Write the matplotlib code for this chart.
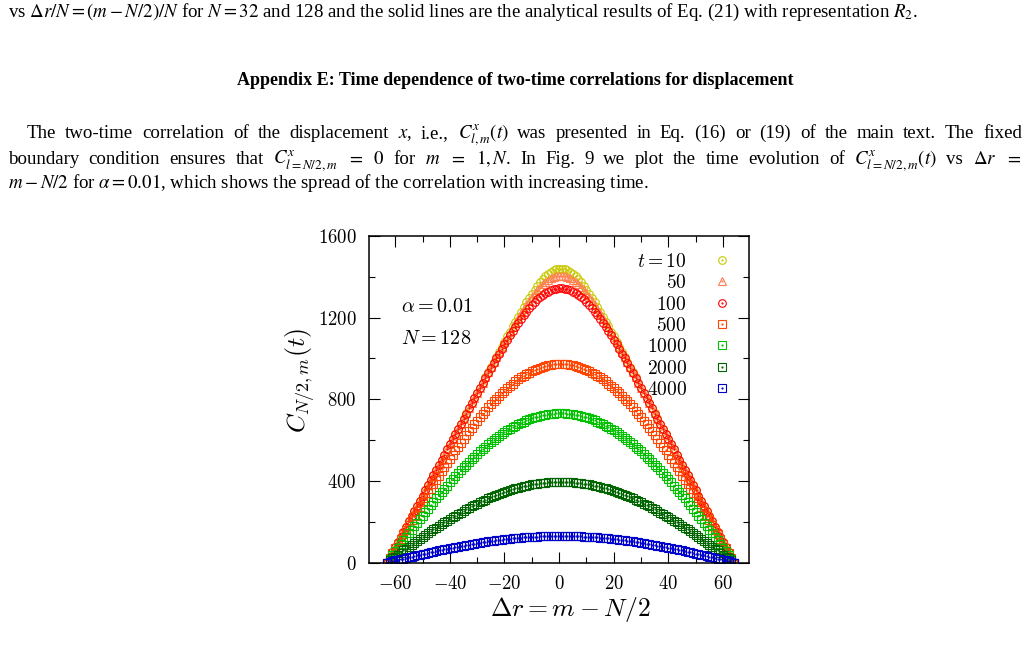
import numpy as np
import matplotlib
matplotlib.use('Agg')
import matplotlib.pyplot as plt
from matplotlib.legend_handler import HandlerTuple
from matplotlib.ticker import MultipleLocator

plt.rcParams['font.family'] = ['Liberation Serif', 'DejaVu Serif']
plt.rcParams['mathtext.fontset'] = 'cm'

W, H = 1029, 648

# ---- data ----
delta_r = list(range(-63, 65))   # m - N/2, m = 1..128
times = ['10', '50', '100', '500', '1000', '2000', '4000']

c_t10 = [0, 25, 50, 76, 101, 126, 151, 176, 202, 227, 252, 277, 302, 328, 353, 378, 403, 428, 454, 479, 504, 529, 554, 580, 605, 630, 655, 680, 706, 731, 756, 781, 806, 831, 857, 882, 907, 932, 957, 983, 1008, 1033, 1058, 1083, 1108, 1132, 1157, 1181, 1205, 1229, 1252, 1275, 1297, 1318, 1337, 1356, 1373, 1389, 1403, 1414, 1424, 1432, 1436, 1439,
         1439, 1436, 1432, 1424, 1414, 1403, 1389, 1373, 1356, 1337, 1318, 1297, 1275, 1252, 1229, 1205, 1181, 1157, 1132, 1108, 1083, 1058, 1033, 1008, 983, 957, 932, 907, 882, 857, 831, 806, 781, 756, 731, 706, 680, 655, 630, 605, 580, 554, 529, 504, 479, 454, 428, 403, 378, 353, 328, 302, 277, 252, 227, 202, 176, 151, 126, 101, 76, 50, 25, 0]
c_t50 = [0, 25, 50, 76, 101, 126, 151, 176, 202, 227, 252, 277, 302, 328, 353, 378, 403, 428, 454, 479, 504, 529, 554, 580, 605, 630, 655, 680, 705, 731, 756, 781, 806, 831, 857, 882, 907, 932, 957, 982, 1007, 1031, 1056, 1081, 1105, 1129, 1152, 1176, 1198, 1221, 1242, 1263, 1283, 1301, 1319, 1335, 1350, 1364, 1376, 1386, 1394, 1400, 1404, 1406,
         1406, 1404, 1400, 1394, 1386, 1376, 1364, 1350, 1335, 1319, 1301, 1283, 1263, 1242, 1221, 1198, 1176, 1152, 1129, 1105, 1081, 1056, 1031, 1007, 982, 957, 932, 907, 882, 857, 831, 806, 781, 756, 731, 705, 680, 655, 630, 605, 580, 554, 529, 504, 479, 454, 428, 403, 378, 353, 328, 302, 277, 252, 227, 202, 176, 151, 126, 101, 76, 50, 25, 0]
c_t100 = [0, 25, 50, 76, 101, 126, 151, 176, 202, 227, 252, 277, 302, 328, 353, 378, 403, 428, 454, 479, 504, 529, 554, 579, 605, 630, 655, 680, 705, 730, 755, 780, 805, 830, 854, 879, 904, 928, 952, 976, 1000, 1023, 1046, 1069, 1091, 1113, 1134, 1155, 1175, 1194, 1212, 1230, 1246, 1262, 1276, 1289, 1301, 1312, 1321, 1328, 1335, 1339, 1342, 1344,
          1344, 1342, 1339, 1335, 1328, 1321, 1312, 1301, 1289, 1276, 1262, 1246, 1230, 1212, 1194, 1175, 1155, 1134, 1113, 1091, 1069, 1046, 1023, 1000, 976, 952, 928, 904, 879, 854, 830, 805, 780, 755, 730, 705, 680, 655, 630, 605, 579, 554, 529, 504, 479, 454, 428, 403, 378, 353, 328, 302, 277, 252, 227, 202, 176, 151, 126, 101, 76, 50, 25, 0]
c_t500 = [0, 23, 46, 69, 92, 115, 138, 161, 184, 207, 229, 252, 274, 296, 318, 340, 362, 384, 405, 426, 447, 468, 489, 509, 529, 549, 568, 588, 606, 625, 643, 661, 678, 695, 712, 728, 744, 760, 775, 789, 803, 817, 830, 842, 854, 866, 877, 887, 897, 907, 915, 923, 931, 938, 944, 950, 955, 960, 963, 967, 969, 971, 972, 973,
          973, 972, 971, 969, 967, 963, 960, 955, 950, 944, 938, 931, 923, 915, 907, 897, 887, 877, 866, 854, 842, 830, 817, 803, 789, 775, 760, 744, 728, 712, 695, 678, 661, 643, 625, 606, 588, 568, 549, 529, 509, 489, 468, 447, 426, 405, 384, 362, 340, 318, 296, 274, 252, 229, 207, 184, 161, 138, 115, 92, 69, 46, 23, 0]
c_t1000 = [0, 18, 36, 54, 72, 90, 108, 125, 143, 161, 178, 196, 213, 230, 247, 264, 281, 297, 314, 330, 346, 362, 377, 393, 408, 423, 437, 452, 466, 479, 493, 506, 519, 532, 544, 556, 567, 579, 589, 600, 610, 620, 629, 638, 647, 655, 663, 671, 678, 684, 690, 696, 701, 706, 711, 715, 718, 722, 724, 726, 728, 730, 731, 731,
           731, 731, 730, 728, 726, 724, 722, 718, 715, 711, 706, 701, 696, 690, 684, 678, 671, 663, 655, 647, 638, 629, 620, 610, 600, 589, 579, 567, 556, 544, 532, 519, 506, 493, 479, 466, 452, 437, 423, 408, 393, 377, 362, 346, 330, 314, 297, 281, 264, 247, 230, 213, 196, 178, 161, 143, 125, 108, 90, 72, 54, 36, 18, 0]
c_t2000 = [0, 10, 20, 29, 39, 49, 59, 68, 78, 87, 97, 106, 116, 125, 134, 144, 153, 162, 171, 179, 188, 197, 205, 213, 222, 230, 238, 245, 253, 260, 268, 275, 282, 289, 295, 302, 308, 314, 320, 325, 331, 336, 341, 346, 351, 355, 359, 363, 367, 371, 374, 377, 380, 383, 385, 387, 389, 391, 392, 394, 395, 395, 396, 396,
           396, 396, 395, 395, 394, 392, 391, 389, 387, 385, 383, 380, 377, 374, 371, 367, 363, 359, 355, 351, 346, 341, 336, 331, 325, 320, 314, 308, 302, 295, 289, 282, 275, 268, 260, 253, 245, 238, 230, 222, 213, 205, 197, 188, 179, 171, 162, 153, 144, 134, 125, 116, 106, 97, 87, 78, 68, 59, 49, 39, 29, 20, 10, 0]
c_t4000 = [0, 3, 6, 10, 13, 16, 19, 22, 26, 29, 32, 35, 38, 41, 44, 47, 50, 53, 56, 59, 62, 65, 67, 70, 73, 75, 78, 81, 83, 85, 88, 90, 92, 95, 97, 99, 101, 103, 105, 107, 109, 110, 112, 114, 115, 117, 118, 119, 121, 122, 123, 124, 125, 126, 126, 127, 128, 128, 129, 129, 130, 130, 130, 130,
           130, 130, 130, 130, 129, 129, 128, 128, 127, 126, 126, 125, 124, 123, 122, 121, 119, 118, 117, 115, 114, 112, 110, 109, 107, 105, 103, 101, 99, 97, 95, 92, 90, 88, 85, 83, 81, 78, 75, 73, 70, 67, 65, 62, 59, 56, 53, 50, 47, 44, 41, 38, 35, 32, 29, 26, 22, 19, 16, 13, 10, 6, 3, 0]

series = [c_t10, c_t50, c_t100, c_t500, c_t1000, c_t2000, c_t4000]
xticks = [-60, -40, -20, 0, 20, 40, 60]
yticks = [0, 400, 800, 1200, 1600]

# ---- figure ----
fig = plt.figure(figsize=(W / 100, H / 100), dpi=100)
fig.patch.set_facecolor('white')

ax = fig.add_axes([369 / W, 1 - 562.5 / H, 380 / W, 326.5 / H])
styles = [('o', '#c8c800'), ('^', '#ff7f50'), ('o', '#ff0000'), ('s', '#ff4500'),
          ('s', '#00c000'), ('s', '#006400'), ('s', '#0000cc')]
handles = []
for v, (mk, c) in zip(series, styles):
    ms = 5.5 if mk != '^' else 6.0
    h1, = ax.plot(delta_r, v, ls='none', marker=mk, ms=ms, mfc='none', mec=c, mew=0.8)
    h2, = ax.plot(delta_r, v, ls='none', marker='.', ms=1.2, color=c)
    handles.append((h1, h2))

ax.set_xlim(-69.6, 69.5)
ax.set_ylim(0, 1600)
ax.set_xticks(xticks)
ax.set_xticklabels([f'${v}$' for v in xticks])
ax.set_yticks(yticks)
ax.set_yticklabels([f'${v}$' for v in yticks])
ax.xaxis.set_minor_locator(MultipleLocator(10))
ax.yaxis.set_minor_locator(MultipleLocator(200))
ax.tick_params(which='both', direction='in', top=True, right=True, width=0.8, labelsize=13.5, pad=9)
ax.tick_params(which='major', length=8)
ax.tick_params(which='minor', length=4.5)
for s in ax.spines.values():
    s.set_linewidth(1.1)
ax.set_ylabel(r'$C_{N/2,m}(t)$', fontsize=18.5)
ax.yaxis.set_label_coords(-0.134, 0.559)
ax.set_xlabel(r'$\Delta r = m - N/2$', fontsize=18.5)
ax.xaxis.set_label_coords(0.529, -0.1)
ax.text(0.178, 0.7795, r'$\alpha = 0.01$', transform=ax.transAxes, ha='center', va='center', fontsize=14.5)
ax.text(0.178, 0.6845, r'$N = 128$', transform=ax.transAxes, ha='center', va='center', fontsize=14.5)

labels = ['$t = 10$'] + [f'${t}$' for t in times[1:]]
leg = ax.legend(handles, labels, handler_map={tuple: HandlerTuple(ndivide=1, pad=0)},
                loc='upper right', bbox_to_anchor=(0.9537, 0.948), frameon=False,
                markerfirst=False, fontsize=14, handlelength=1.0, handletextpad=1.3,
                labelspacing=0.17, borderpad=0, borderaxespad=0)

# ---- page text ----
fs = 13.6
fig.text(8 / W, 1 - 17 / H, r'vs $\Delta r/N = (m - N/2)/N$ for $N = 32$ and 128 and the solid lines are the analytical results of Eq. (21) with representation $R_2$.',
         fontsize=fs, va='baseline', ha='left', math_fontfamily='stix')
fig.text(515 / W, 1 - 85 / H, 'Appendix E: Time dependence of two-time correlations for displacement',
         fontsize=13, fontweight='bold', va='baseline', ha='center')

fig.canvas.draw()
r = fig.canvas.get_renderer()

def justify(tokens, x0, x1, yb):
    ts = [fig.text(0, 1 - yb / H, tok, fontsize=fs, va='baseline', ha='left', math_fontfamily='stix') for tok in tokens]
    ws = [t.get_window_extent(r).width for t in ts]
    gap = ((x1 - x0) - sum(ws)) / (len(ts) - 1)
    xx = x0
    for t, w in zip(ts, ws):
        t.set_x(xx / W)
        xx += w + gap

l1 = ('The two-time correlation of the displacement $x$, i.e., $C^x_{l,m}(t)$ was presented in '
      'Eq. (16) or (19) of the main text. The fixed').split(' ')
l2 = ['boundary', 'condition', 'ensures', 'that', r'$C^x_{l=N/2,m}$', '$=$', '$0$', 'for', '$m$', '$=$', '$1,N$.',
      'In', 'Fig.', '9', 'we', 'plot', 'the', 'time', 'evolution', 'of', r'$C^x_{l=N/2,m}(t)$', 'vs', r'$\Delta r$', '$=$']
justify(l1, 27, 1022, 138)
justify(l2, 8, 1022, 164)
fig.text(8 / W, 1 - 188.5 / H, r'$m - N/2$ for $\alpha = 0.01$, which shows the spread of the correlation with increasing time.',
         fontsize=fs, va='baseline', ha='left', math_fontfamily='stix')

fig.savefig('out.png', dpi=100, facecolor='white')
